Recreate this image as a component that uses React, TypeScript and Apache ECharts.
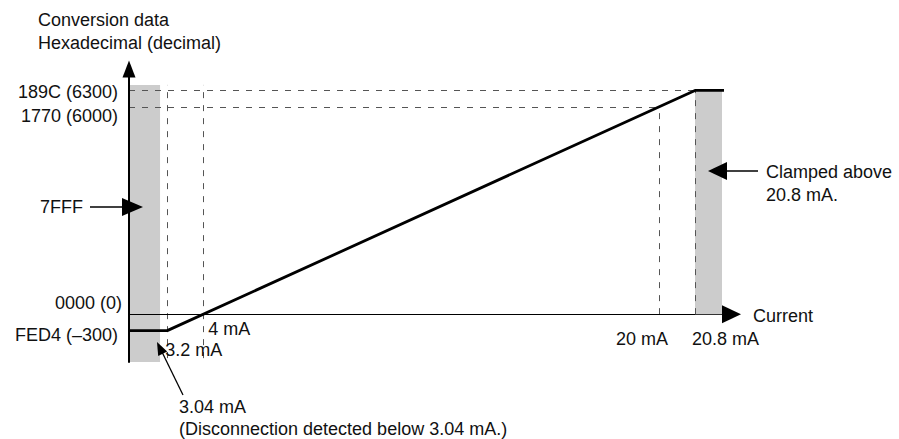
import React, { useEffect, useRef } from 'react';
import * as echarts from 'echarts';

// ---- data (schematic, current in mA / conversion data in decimal) ----
const curveCurrent = [2.35, 3.2, 20.8, 21.55];
const curveValue = [-300, -300, 6300, 6300];

const xTickValues = [3.2, 4, 20, 20.8];
const xTickLabels = ['3.2 mA', '4 mA', '20 mA', '20.8 mA'];
const yTickValues = [6300, 6000, 0, -300];
const yTickLabels = ['189C (6300)', '1770 (6000)', '0000 (0)', 'FED4 (\u2013300)'];

const disconnectBelow = 3.04; // mA
const clampAbove = 20.8; // mA
const fullScaleCurrent = 20; // mA
const fullScaleValue = 6000;
const clampValue = 6300;

const xMin = 2.35;
const xMax = 21.4;
const yMin = -870;
const yMax = 6690;

const FONT = '"Liberation Sans", Arial, Helvetica, sans-serif';
const TXT = '#111';

export default function App() {
  const ref = useRef<HTMLDivElement>(null);

  useEffect(() => {
    if (!ref.current) return;
    const chart = echarts.init(ref.current, undefined, { renderer: 'svg' });

    const xLabelPos: Record<string, { pos: [number, number]; align: string }> = {
      '3.2': { pos: [-2, 36], align: 'left' },
      '4': { pos: [5, 15], align: 'left' },
      '20': { pos: [-17, 25], align: 'center' },
      '20.8': { pos: [-3, 25], align: 'left' },
    };
    const yLabelPos: Record<string, [number, number]> = {
      '6300': [-11, 2],
      '6000': [-11, 9],
      '0': [-7, -11],
      '-300': [-11, 4],
    };

    const dashed = { type: [6, 7] as any, color: '#555', width: 1 };
    const solidAxis = (w: number) => ({ type: 'solid', color: '#000', width: w });

    const labelBase = {
      show: true,
      verticalAlign: 'middle',
      fontSize: 18,
      fontFamily: FONT,
      color: TXT,
      opacity: 1,
      textBorderWidth: 0,
    };

    const option: any = {
      animation: false,
      textStyle: { fontFamily: FONT, color: TXT, fontSize: 18 },
      grid: { left: 129, top: 69, width: 593, height: 293, containLabel: false },
      xAxis: {
        type: 'value',
        min: xMin,
        max: xMax,
        breaks: [{ start: 5, end: 19, gap: 8.128 }],
        breakArea: { show: false },
        axisLine: {
          show: true,
          onZero: true,
          symbol: ['none', 'path://M9 0 L18 19 L0 19 Z'],
          symbolSize: [18, 19],
          symbolOffset: [0, 9.5],
          lineStyle: { color: '#000', width: 1.2 },
        },
        axisTick: { show: false },
        axisLabel: { show: false },
        splitLine: { show: false },
      },
      yAxis: {
        type: 'value',
        min: yMin,
        max: yMax,
        breaks: [{ start: 300, end: 5700, gap: 3165 }],
        breakArea: { show: false },
        axisLine: {
          show: true,
          onZero: false,
          symbol: ['none', 'path://M6.5 0 L13 17 L0 17 Z'],
          symbolSize: [13, 17],
          lineStyle: { color: '#000', width: 2 },
        },
        axisTick: { show: false },
        axisLabel: { show: false },
        splitLine: { show: false },
      },
      series: [
        {
          name: 'bands',
          type: 'line',
          data: [],
          z: 1,
          silent: true,
          markArea: {
            silent: true,
            itemStyle: { color: '#cccccc' },
            label: { show: false },
            data: [
              [{ coord: [xMin, yMin] }, { coord: [disconnectBelow, 6400] }],
              [{ coord: [clampAbove, 0] }, { coord: [xMax, clampValue] }],
            ],
          },
        },
        {
          name: 'guides',
          type: 'line',
          data: [],
          z: 3,
          silent: true,
          markLine: {
            silent: true,
            symbol: ['none', 'none'],
            label: { show: false },
            lineStyle: dashed,
            data: [
              [{ coord: [xMin, clampValue] }, { coord: [clampAbove, clampValue] }],
              [{ coord: [xMin, fullScaleValue] }, { coord: [fullScaleCurrent, fullScaleValue] }],
              [{ coord: [3.2, -800] }, { coord: [3.2, 6400] }],
              [{ coord: [4, -800] }, { coord: [4, 6400] }],
              [{ coord: [fullScaleCurrent, 0] }, { coord: [fullScaleCurrent, fullScaleValue] }],
              [{ coord: [clampAbove, 0] }, { coord: [clampAbove, clampValue] }],
            ],
          },
        },
        {
          name: 'axes',
          type: 'line',
          data: [],
          z: 4,
          silent: true,
          markLine: {
            silent: true,
            symbol: ['none', 'none'],
            label: { show: false },
            data: [
              [
                { coord: [xMin, 0], lineStyle: solidAxis(1.2) },
                { coord: [clampAbove, 0] },
              ],
              [
                { coord: [xMin, yMin], lineStyle: solidAxis(2) },
                { coord: [xMin, yMax] },
              ],
            ],
          },
        },
        {
          name: 'conversion',
          type: 'line',
          z: 5,
          clip: false,
          showSymbol: false,
          silent: true,
          lineStyle: { color: '#000', width: 2.8 },
          data: curveCurrent.map((c, i) => [c, curveValue[i]]),
        },
        {
          name: 'yTicks',
          type: 'scatter',
          z: 6,
          clip: false,
          silent: true,
          symbolSize: 0,
          itemStyle: { color: '#000', opacity: 1 },
          data: yTickValues.map((v, i) => ({
            value: [xMin, v],
            label: {
              ...labelBase,
              formatter: yTickLabels[i],
              position: yLabelPos[String(v)],
              align: 'right',
            },
          })),
        },
        {
          name: 'xTicks',
          type: 'scatter',
          z: 6,
          clip: false,
          silent: true,
          symbolSize: 0,
          itemStyle: { color: '#000', opacity: 1 },
          data: xTickValues.map((v, i) => ({
            value: [v, 0],
            label: {
              ...labelBase,
              formatter: xTickLabels[i],
              position: xLabelPos[String(v)].pos,
              align: xLabelPos[String(v)].align,
            },
          })),
        },
      ],
      graphic: [
        { type: 'text', x: 38, y: 20, style: { text: 'Conversion data', font: `18px ${FONT}`, fill: TXT, verticalAlign: 'middle' } },
        { type: 'text', x: 38, y: 43, style: { text: 'Hexadecimal (decimal)', font: `18px ${FONT}`, fill: TXT, verticalAlign: 'middle' } },
        { type: 'text', x: 40, y: 207, style: { text: '7FFF', font: `18px ${FONT}`, fill: TXT, verticalAlign: 'middle' } },
        { type: 'line', shape: { x1: 90, y1: 207, x2: 124, y2: 207 }, style: { stroke: '#000', lineWidth: 1.4 }, z: 10 },
        { type: 'polygon', shape: { points: [[122, 198], [143, 207], [122, 216]] }, style: { fill: '#000' }, z: 10 },
        { type: 'text', x: 766, y: 172, style: { text: 'Clamped above', font: `18px ${FONT}`, fill: TXT, verticalAlign: 'middle' } },
        { type: 'text', x: 766, y: 195, style: { text: '20.8 mA.', font: `18px ${FONT}`, fill: TXT, verticalAlign: 'middle' } },
        { type: 'line', shape: { x1: 725, y1: 171, x2: 758, y2: 171 }, style: { stroke: '#000', lineWidth: 1.4 }, z: 10 },
        { type: 'polygon', shape: { points: [[727, 162], [708, 171], [727, 180]] }, style: { fill: '#000' }, z: 10 },
        { type: 'text', x: 753, y: 316, style: { text: 'Current', font: `18px ${FONT}`, fill: TXT, verticalAlign: 'middle' } },
        { type: 'text', x: 179, y: 407, style: { text: '3.04 mA', font: `18px ${FONT}`, fill: TXT, verticalAlign: 'middle' } },
        { type: 'text', x: 179, y: 429, style: { text: '(Disconnection detected below 3.04 mA.)', font: `18px ${FONT}`, fill: TXT, verticalAlign: 'middle' } },
        { type: 'line', shape: { x1: 183, y1: 395, x2: 162, y2: 352 }, style: { stroke: '#000', lineWidth: 1.3 }, z: 10 },
        { type: 'polygon', shape: { points: [[157, 342], [167.2, 351.5], [158.2, 355.9]] }, style: { fill: '#000' }, z: 10 },
      ],
    };

    chart.setOption(option);
    return () => chart.dispose();
  }, []);

  return (
    <div
      ref={ref}
      style={{ position: 'fixed', left: 0, top: 0, width: 899, height: 439, background: '#fff' }}
    />
  );
}
